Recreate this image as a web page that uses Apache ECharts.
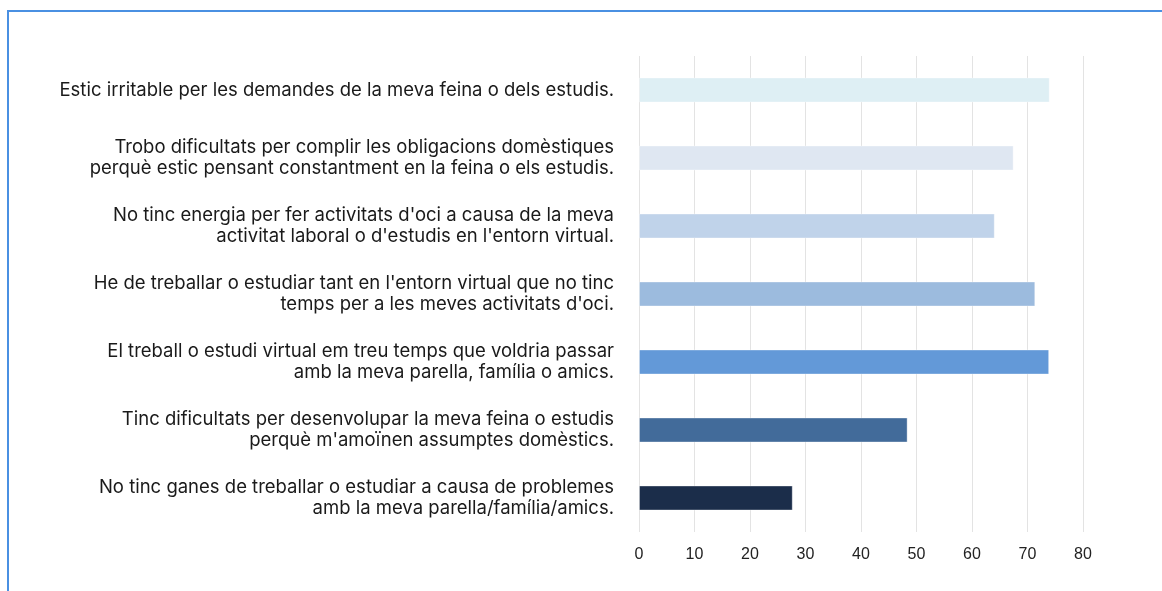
<!DOCTYPE html>
<html>
<head>
<meta charset="utf-8">
<script src="https://cdn.jsdelivr.net/npm/echarts@6/dist/echarts.min.js"></script>
<style>
html,body{margin:0;padding:0;background:#fff;}
#chart{width:1162px;height:591px;}
</style>
</head>
<body>
<div id="chart"></div>
<script>
var categories = [
  "Estic irritable per les demandes de la meva feina o dels estudis.",
  "Trobo dificultats per complir les obligacions domèstiques\nperquè estic pensant constantment en la feina o els estudis.",
  "No tinc energia per fer activitats d'oci a causa de la meva\nactivitat laboral o d'estudis en l'entorn virtual.",
  "He de treballar o estudiar tant en l'entorn virtual que no tinc\ntemps per a les meves activitats d'oci.",
  "El treball o estudi virtual em treu temps que voldria passar\namb la meva parella, família o amics.",
  "Tinc dificultats per desenvolupar la meva feina o estudis\nperquè m'amoïnen assumptes domèstics.",
  "No tinc ganes de treballar o estudiar a causa de problemes\namb la meva parella/família/amics."
];
var values = [74.0, 67.5, 64.1, 71.4, 73.9, 48.4, 27.7];
var barColors = ["#DEEFF4", "#DFE7F2", "#C0D3EA", "#9CBBDE", "#6399D8", "#426B9A", "#1B2D4A"];
var xTicks = [0, 10, 20, 30, 40, 50, 60, 70, 80];

var chart = echarts.init(document.getElementById('chart'), null, {renderer: 'canvas'});
chart.setOption({
  animation: false,
  backgroundColor: '#fff',
  graphic: [{
    type: 'rect',
    shape: {x: 8, y: 11, width: 2000, height: 2000},
    style: {fill: 'none', stroke: '#4A90E2', lineWidth: 2},
    silent: true
  }],
  grid: {left: 639, right: 79, top: 56, bottom: 59, containLabel: false},
  xAxis: {
    type: 'value',
    min: xTicks[0],
    max: xTicks[xTicks.length - 1],
    interval: 10,
    axisLine: {show: false},
    axisTick: {show: false},
    splitLine: {show: true, lineStyle: {color: '#E3E3E3', width: 1}},
    axisLabel: {color: '#222', fontSize: 16, fontFamily: 'Liberation Sans, Arial, sans-serif', margin: 15}
  },
  yAxis: {
    type: 'category',
    inverse: true,
    data: categories,
    axisLine: {show: false},
    axisTick: {show: false},
    axisLabel: {
      color: '#1a1a1a',
      fontSize: 18.5,
      lineHeight: 21,
      fontFamily: 'Inter, Liberation Sans, Arial, sans-serif',
      margin: 25,
      align: 'right',
      padding: [0, 0, 10, 0]
    }
  },
  series: [{
    type: 'bar',
    data: values.map(function (v, i) {
      return {value: v, itemStyle: {color: barColors[i]}};
    }),
    barWidth: 25,
    itemStyle: {borderColor: 'rgba(255,255,255,0.35)', borderWidth: 1}
  }]
});
</script>
</body>
</html>
